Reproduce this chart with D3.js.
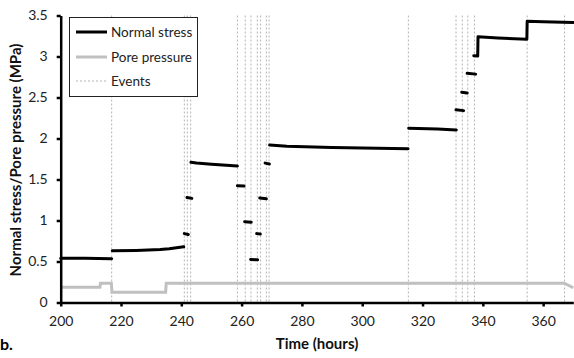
<!DOCTYPE html>
<html>
<head>
<meta charset="utf-8">
<script src="https://cdn.jsdelivr.net/npm/d3@7"></script>
<style>
  html, body { margin: 0; padding: 0; background: #fff; }
  svg { display: block; font-family: Lato, "Liberation Sans", sans-serif; }
</style>
</head>
<body>
<svg id="chart" width="574" height="358"></svg>
<script>
// Normal stress record (MPa); null separates the individual loading stages
const stressTime  = [200, 208, 216.9, null,
  217.1, 225, 233, 236, 240.8, null,
  241.0, 242.3, null,
  241.9, 243.5, null,
  243.2, 245, 250, 258.6, null,
  258.6, 260.8, null,
  261.0, 263.2, null,
  263.0, 265.3, null,
  265.0, 266.2, null,
  266.0, 268.2, null,
  267.8, 269.2, null,
  269.3, 275, 290, 315.2, null,
  315.4, 325, 331.2, null,
  331.1, 333.6, null,
  333.0, 334.8, null,
  334.8, 337.6, null,
  337.0, 338.3, 338.4, 345, 354.6, 354.7, 360, 370];
const stressValue = [0.54, 0.54, 0.535, null,
  0.63, 0.635, 0.645, 0.655, 0.68, null,
  0.84, 0.83, null,
  1.28, 1.27, null,
  1.71, 1.70, 1.685, 1.665, null,
  1.425, 1.42, null,
  0.985, 0.98, null,
  0.525, 0.52, null,
  0.84, 0.835, null,
  1.275, 1.265, null,
  1.70, 1.69, null,
  1.92, 1.905, 1.89, 1.875, null,
  2.125, 2.115, 2.105, null,
  2.35, 2.34, null,
  2.565, 2.555, null,
  2.795, 2.785, null,
  3.01, 3.005, 3.24, 3.225, 3.21, 3.43, 3.425, 3.415];

// Pore pressure record (MPa)
const poreTime  = [200, 213, 213.2, 216.8, 217.0, 234.8, 235.0, 367, 370];
const poreValue = [0.185, 0.185, 0.235, 0.235, 0.125, 0.125, 0.235, 0.235, 0.18];

// Event times (hours)
const eventTimes = [216.9, 241.0, 242.0, 243.1, 258.6, 261.2, 263.1, 265.2, 266.3,
  268.2, 269.1, 315.3, 331.1, 333.2, 335.0, 337.2, 354.7, 367.1];

const xTicks = [200, 220, 240, 260, 280, 300, 320, 340, 360];
const yTicks = [0, 0.5, 1, 1.5, 2, 2.5, 3, 3.5];
const legendLabels = ["Normal stress", "Pore pressure", "Events"];

const svg = d3.select("#chart");
const x = d3.scaleLinear().domain([200, 370]).range([60.7, 573.3]);
const y = d3.scaleLinear().domain([0, 3.5]).range([302.5, 15.5]);

// event markers
svg.append("g").selectAll("line").data(eventTimes).join("line")
  .attr("x1", d => x(d)).attr("x2", d => x(d))
  .attr("y1", y(3.5)).attr("y2", y(0))
  .attr("stroke", "#b4b4b4").attr("stroke-width", 1)
  .attr("stroke-dasharray", "2,2");

// pore pressure
const poreData = poreTime.map((t, i) => [t, poreValue[i]]);
svg.append("path").datum(poreData)
  .attr("fill", "none").attr("stroke", "#c0c0c0").attr("stroke-width", 3)
  .attr("d", d3.line().x(d => x(d[0])).y(d => y(d[1])));

// normal stress
const stressData = stressTime.map((t, i) => [t, stressValue[i]]);
svg.append("path").datum(stressData)
  .attr("fill", "none").attr("stroke", "#000").attr("stroke-width", 3)
  .attr("stroke-linejoin", "round").attr("stroke-linecap", "round")
  .attr("d", d3.line().defined(d => d[0] !== null && d[1] !== null)
    .x(d => x(d[0])).y(d => y(d[1])));

// axes
const xAxis = svg.append("g").attr("transform", `translate(0,${y(0)})`)
  .call(d3.axisBottom(x).tickValues(xTicks).tickSize(4).tickSizeOuter(0).tickPadding(10));
const yAxis = svg.append("g").attr("transform", `translate(${x(200)},0)`)
  .call(d3.axisLeft(y).tickValues(yTicks).tickSize(4).tickSizeOuter(0).tickPadding(9)
    .tickFormat(d3.format("")));
[xAxis, yAxis].forEach(g => {
  g.select(".domain").attr("stroke", "#000").attr("stroke-width", 2.5);
  g.selectAll(".tick line").attr("stroke", "#000").attr("stroke-width", 2.5);
  g.selectAll(".tick text").attr("fill", "#222").style("font-size", "14px")
    .style("font-family", "Lato, sans-serif");
});

// axis titles
svg.append("text").attr("x", 317).attr("y", 349).attr("text-anchor", "middle")
  .style("font-weight", "bold").style("font-size", "15px").attr("fill", "#111")
  .text("Time (hours)");
svg.append("text").attr("transform", "translate(21,160) rotate(-90)")
  .attr("text-anchor", "middle")
  .style("font-weight", "bold").style("font-size", "15px").attr("fill", "#111")
  .text("Normal stress/Pore pressure (MPa)");

// panel label
svg.append("text").attr("x", 0).attr("y", 350)
  .style("font-weight", "bold").style("font-size", "16px").attr("fill", "#000")
  .text("b.");

// legend
const lg = svg.append("g");
lg.append("rect").attr("x", 69.5).attr("y", 17.5).attr("width", 128).attr("height", 79)
  .attr("fill", "#fff").attr("stroke", "#222").attr("stroke-width", 1);
const legendStyles = [
  { stroke: "#000", width: 3, dash: null },
  { stroke: "#c0c0c0", width: 3, dash: null },
  { stroke: "#b4b4b4", width: 1, dash: "2,2" }
];
const legendY = [32, 57, 81];
legendLabels.forEach((lab, i) => {
  const s = legendStyles[i];
  lg.append("line").attr("x1", 76).attr("x2", 107).attr("y1", legendY[i]).attr("y2", legendY[i])
    .attr("stroke", s.stroke).attr("stroke-width", s.width)
    .attr("stroke-dasharray", s.dash);
  lg.append("text").attr("x", 111).attr("y", legendY[i] + 5)
    .style("font-size", "13.5px").attr("fill", "#222").text(lab);
});
</script>
</body>
</html>
